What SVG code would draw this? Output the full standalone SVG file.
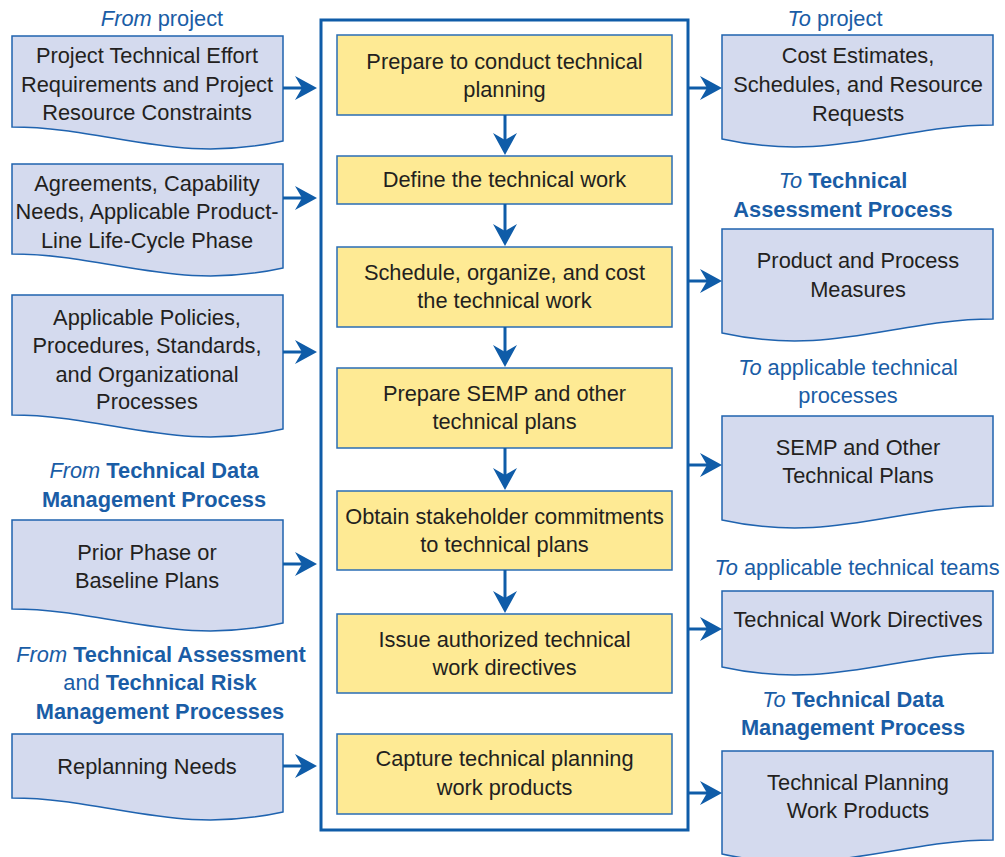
<svg xmlns="http://www.w3.org/2000/svg" width="1005" height="857" viewBox="0 0 1005 857">
<defs>
<style>
text { font-family: "Liberation Sans", Arial, sans-serif; font-size: 21.8px; }
.t { fill: #231F20; text-anchor: middle; }
.lbl { fill: #1A5DA6; text-anchor: middle; }
.b { font-weight: bold; }
.i { font-style: italic; }
.doc { fill: #D4DAEE; stroke: #1F63AF; stroke-width: 1.5; }
.step { fill: #FEEA94; stroke: #2A6DB5; stroke-width: 1.5; }
.frame { fill: none; stroke: #0F5CA8; stroke-width: 3; }
.conn { stroke: #0F5CA8; stroke-width: 3; fill: none; marker-end: url(#ah); }
</style>
<marker id="ah" markerUnits="userSpaceOnUse" markerWidth="24" markerHeight="26" refX="10" refY="12" orient="auto" overflow="visible">
<path d="M0,0 L22,12 L0,24 L7,12 Z" fill="#0F5CA8"/>
</marker>
</defs>
<rect width="1005" height="857" fill="#FFFFFF"/>

<g id="labels">
<text class="lbl" x="162" y="26"><tspan class="i">From</tspan> project</text>
<text class="lbl" x="154" y="478"><tspan class="i">From</tspan> <tspan class="b">Technical Data</tspan></text>
<text class="lbl b" x="154" y="507">Management Process</text>
<text class="lbl" x="161" y="662"><tspan class="i">From</tspan> <tspan class="b">Technical Assessment</tspan></text>
<text class="lbl" x="160" y="690">and <tspan class="b">Technical Risk</tspan></text>
<text class="lbl b" x="160" y="719">Management Processes</text>
<text class="lbl" x="835" y="26"><tspan class="i">To</tspan> project</text>
<text class="lbl" x="843" y="188"><tspan class="i">To</tspan> <tspan class="b">Technical</tspan></text>
<text class="lbl b" x="843" y="217">Assessment Process</text>
<text class="lbl" x="848" y="375"><tspan class="i">To</tspan> applicable technical</text>
<text class="lbl" x="848" y="403">processes</text>
<text class="lbl" x="857" y="575"><tspan class="i">To</tspan> applicable technical teams</text>
<text class="lbl" x="853" y="707"><tspan class="i">To</tspan> <tspan class="b">Technical Data</tspan></text>
<text class="lbl b" x="853" y="735">Management Process</text>
</g>

<g id="frame">
<rect class="frame" x="321" y="20" width="367" height="810"/>
</g>

<g id="in1">
<path class="doc" d="M12,36 H283 V141 C174.6,165 106.9,127 12,127 Z"/>
<text class="t" x="147" y="63">Project Technical Effort</text>
<text class="t" x="147" y="92">Requirements and Project</text>
<text class="t" x="147" y="120">Resource Constraints</text>
</g>
<g id="in2">
<path class="doc" d="M12,164 H283 V268 C174.6,292 106.9,254 12,254 Z"/>
<text class="t" x="147" y="191">Agreements, Capability</text>
<text class="t" x="147" y="219">Needs, Applicable Product-</text>
<text class="t" x="147" y="248">Line Life-Cycle Phase</text>
</g>
<g id="in3">
<path class="doc" d="M12,295 H283 V429 C174.6,453 106.9,415 12,415 Z"/>
<text class="t" x="147" y="325">Applicable Policies,</text>
<text class="t" x="147" y="353">Procedures, Standards,</text>
<text class="t" x="147" y="382">and Organizational</text>
<text class="t" x="147" y="409">Processes</text>
</g>
<g id="in4">
<path class="doc" d="M12,520 H283 V623 C174.6,647 106.9,609 12,609 Z"/>
<text class="t" x="147" y="560">Prior Phase or</text>
<text class="t" x="147" y="588">Baseline Plans</text>
</g>
<g id="in5">
<path class="doc" d="M12,734 H283 V812 C174.6,836 106.9,798 12,798 Z"/>
<text class="t" x="147" y="774">Replanning Needs</text>
</g>

<g id="step1">
<rect class="step" x="337" y="35" width="335" height="80"/>
<text class="t" x="504.5" y="69">Prepare to conduct technical</text>
<text class="t" x="504.5" y="97">planning</text>
</g>
<g id="step2">
<rect class="step" x="337" y="156" width="335" height="48"/>
<text class="t" x="504.5" y="187">Define the technical work</text>
</g>
<g id="step3">
<rect class="step" x="337" y="247" width="335" height="80"/>
<text class="t" x="504.5" y="280">Schedule, organize, and cost</text>
<text class="t" x="504.5" y="308">the technical work</text>
</g>
<g id="step4">
<rect class="step" x="337" y="368" width="335" height="80"/>
<text class="t" x="504.5" y="401">Prepare SEMP and other</text>
<text class="t" x="504.5" y="429">technical plans</text>
</g>
<g id="step5">
<rect class="step" x="337" y="491" width="335" height="79"/>
<text class="t" x="504.5" y="524">Obtain stakeholder commitments</text>
<text class="t" x="504.5" y="552">to technical plans</text>
</g>
<g id="step6">
<rect class="step" x="337" y="614" width="335" height="79"/>
<text class="t" x="504.5" y="647">Issue authorized technical</text>
<text class="t" x="504.5" y="675">work directives</text>
</g>
<g id="step7">
<rect class="step" x="337" y="734" width="335" height="80"/>
<text class="t" x="504.5" y="766">Capture technical planning</text>
<text class="t" x="504.5" y="795">work products</text>
</g>

<g id="out1">
<path class="doc" d="M722,35 H993 V125 C898.2,125 830.4,163 722,139 Z"/>
<text class="t" x="858" y="63">Cost Estimates,</text>
<text class="t" x="858" y="92">Schedules, and Resource</text>
<text class="t" x="858" y="121">Requests</text>
</g>
<g id="out2">
<path class="doc" d="M722,229 H993 V319 C898.2,319 830.4,357 722,333 Z"/>
<text class="t" x="858" y="268">Product and Process</text>
<text class="t" x="858" y="297">Measures</text>
</g>
<g id="out3">
<path class="doc" d="M722,416 H993 V506 C898.2,506 830.4,544 722,520 Z"/>
<text class="t" x="858" y="455">SEMP and Other</text>
<text class="t" x="858" y="483">Technical Plans</text>
</g>
<g id="out4">
<path class="doc" d="M722,591 H993 V653 C898.2,653 830.4,691 722,667 Z"/>
<text class="t" x="858" y="627">Technical Work Directives</text>
</g>
<g id="out5">
<path class="doc" d="M722,751 H993 V840 C898.2,840 830.4,878 722,854 Z"/>
<text class="t" x="858" y="790">Technical Planning</text>
<text class="t" x="858" y="818">Work Products</text>
</g>

<g id="connectors">
<path class="conn" d="M283,88 H305"/>
<path class="conn" d="M283,198 H305"/>
<path class="conn" d="M283,352 H305"/>
<path class="conn" d="M283,564 H305"/>
<path class="conn" d="M283,766 H305"/>
<path class="conn" d="M688,88 H710"/>
<path class="conn" d="M688,281 H710"/>
<path class="conn" d="M688,465 H710"/>
<path class="conn" d="M688,629 H710"/>
<path class="conn" d="M688,793 H710"/>
<path class="conn" d="M505,115 V143"/>
<path class="conn" d="M505,204 V234"/>
<path class="conn" d="M505,327 V355"/>
<path class="conn" d="M505,448 V478"/>
<path class="conn" d="M505,570 V601"/>
</g>
</svg>
